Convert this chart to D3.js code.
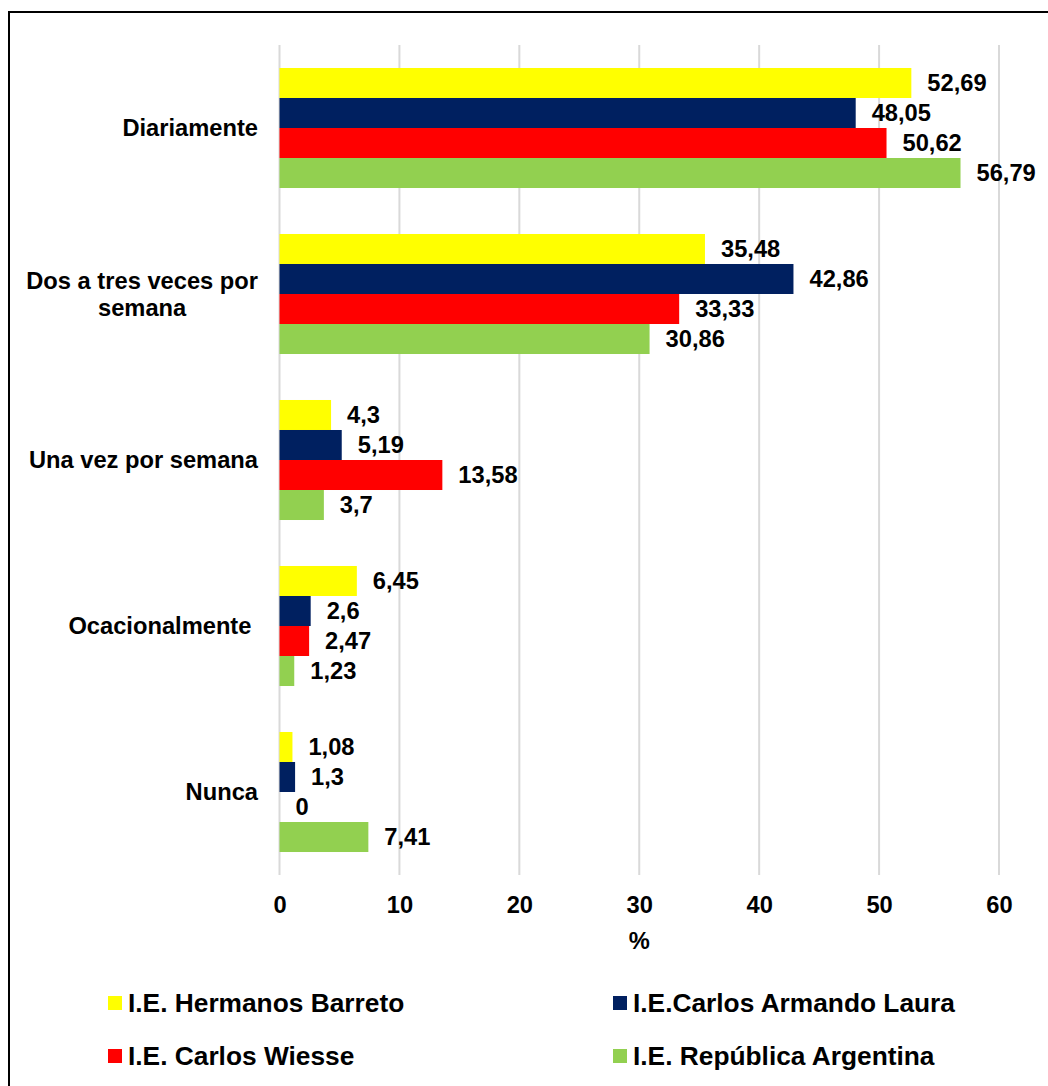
<!DOCTYPE html>
<html>
<head>
<meta charset="utf-8">
<script src="https://cdn.jsdelivr.net/npm/d3@7/dist/d3.min.js"></script>
<style>
  html, body { margin: 0; padding: 0; background: #fff; }
  svg { display: block; }
  text { font-family: "Liberation Sans", Arial, sans-serif; font-weight: bold; fill: #000; }
</style>
</head>
<body>
<svg id="chart" width="1048" height="1086"></svg>
<script>
const categories = ["Diariamente", "Dos a tres veces por semana", "Una vez por semana", "Ocacionalmente", "Nunca"];
const categoryLines = [["Diariamente"], ["Dos a tres veces por", "semana"], ["Una vez por semana"], ["Ocacionalmente "], ["Nunca"]];
const seriesNames = ["I.E. Hermanos Barreto", "I.E.Carlos Armando Laura", "I.E. Carlos Wiesse", "I.E. República Argentina"];
const seriesColors = ["#FFFF00", "#002060", "#FF0000", "#92D050"];
const hermanosBarreto = [52.69, 35.48, 4.3, 6.45, 1.08];
const carlosArmandoLaura = [48.05, 42.86, 5.19, 2.6, 1.3];
const carlosWiesse = [50.62, 33.33, 13.58, 2.47, 0];
const republicaArgentina = [56.79, 30.86, 3.7, 1.23, 7.41];
const xTicks = [0, 10, 20, 30, 40, 50, 60];
const xAxisTitle = "%";

const seriesValues = [hermanosBarreto, carlosArmandoLaura, carlosWiesse, republicaArgentina];

const svg = d3.select("#chart");

// outer border (right/bottom run off the canvas as in the reference)
svg.append("rect")
  .attr("x", 9).attr("y", 12)
  .attr("width", 1060).attr("height", 1100)
  .attr("fill", "none").attr("stroke", "#000").attr("stroke-width", 2);

const plot = { left: 279.5, right: 999, top: 45, bottom: 875 };

const x = d3.scaleLinear().domain([0, 60]).range([plot.left, plot.right]);
const y = d3.scaleBand().domain(categories).range([plot.top, plot.bottom])
  .paddingInner(0.277).paddingOuter(0.1385);
const ySub = d3.scaleBand().domain(d3.range(seriesNames.length)).range([0, y.bandwidth()]);

// gridlines
svg.append("g").selectAll("line").data(xTicks).join("line")
  .attr("x1", d => x(d)).attr("x2", d => x(d))
  .attr("y1", plot.top).attr("y2", plot.bottom)
  .attr("stroke", "#d9d9d9").attr("stroke-width", 2);

// bars
const groups = svg.append("g").selectAll("g").data(categories).join("g")
  .attr("transform", c => `translate(0,${y(c)})`);

groups.each(function(c, ci) {
  const g = d3.select(this);
  seriesValues.forEach((vals, si) => {
    const v = vals[ci];
    g.append("rect")
      .attr("x", x(0))
      .attr("y", ySub(si))
      .attr("width", x(v) - x(0))
      .attr("height", ySub.bandwidth())
      .attr("fill", seriesColors[si]);
    g.append("text")
      .attr("x", x(v) + 16)
      .attr("y", ySub(si) + ySub.bandwidth() / 2)
      .attr("dy", "0.35em")
      .attr("font-size", "23.7px")
      .text(String(v).replace(".", ","));
  });
});

// x axis tick labels
const xAxis = d3.axisBottom(x).tickValues(xTicks).tickSize(0).tickPadding(0).tickFormat(d3.format("d"));
const xg = svg.append("g").attr("transform", `translate(0,${plot.bottom})`).call(xAxis);
xg.select(".domain").remove();
xg.selectAll("text")
  .attr("y", 30).attr("dy", "0.35em")
  .attr("font-size", "23.7px")
  .style("font-family", "'Liberation Sans', Arial, sans-serif")
  .style("font-weight", "bold").attr("fill", "#000");

svg.append("text")
  .attr("x", (plot.left + plot.right) / 2)
  .attr("y", 941).attr("dy", "0.35em")
  .attr("text-anchor", "middle")
  .attr("font-size", "23.7px")
  .text(xAxisTitle);

// y axis category labels
const labelRight = 258;
const yl = svg.append("g");
categories.forEach((c, ci) => {
  const lines = categoryLines[ci];
  const cy = y(c) + y.bandwidth() / 2;
  const lh = 27;
  const t = yl.append("text")
    .attr("font-size", "23.7px")
    .style("white-space", "pre");
  if (lines.length === 1) {
    t.attr("x", labelRight).attr("y", cy).attr("dy", "0.35em")
      .attr("text-anchor", "end").text(lines[0]);
  } else {
    // measure widest line to center the block right-aligned
    const tmp = yl.append("text").attr("font-size", "23.7px");
    let maxW = 0;
    lines.forEach(l => { tmp.text(l); maxW = Math.max(maxW, tmp.node().getComputedTextLength()); });
    tmp.remove();
    const cx = labelRight - maxW / 2;
    t.attr("text-anchor", "middle");
    lines.forEach((l, li) => {
      t.append("tspan")
        .attr("x", cx)
        .attr("y", cy + (li - (lines.length - 1) / 2) * lh)
        .attr("dy", "0.35em")
        .text(l);
    });
  }
});

// legend
const legendPos = [
  { x: 108, y: 1003 }, { x: 613, y: 1003 },
  { x: 108, y: 1056 }, { x: 613, y: 1056 }
];
const lg = svg.append("g").selectAll("g").data(seriesNames).join("g")
  .attr("transform", (d, i) => `translate(${legendPos[i].x},${legendPos[i].y})`);
lg.append("rect").attr("x", 0).attr("y", -7).attr("width", 14).attr("height", 14)
  .attr("fill", (d, i) => seriesColors[i]);
lg.append("text").attr("x", 20).attr("y", 0).attr("dy", "0.35em")
  .attr("font-size", "26.3px").text(d => d);
</script>
</body>
</html>
